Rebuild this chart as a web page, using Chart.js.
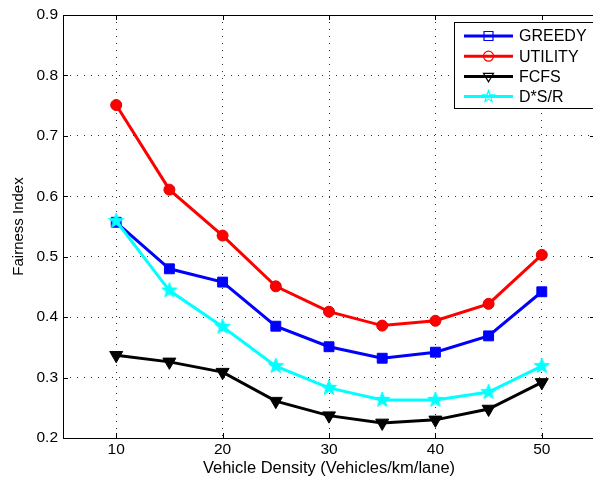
<!DOCTYPE html>
<html>
<head>
<meta charset="utf-8">
<title>Fairness Index vs Vehicle Density</title>
<script src="https://cdn.jsdelivr.net/npm/chart.js@4.4.0/dist/chart.umd.min.js"></script>
<style>
  html, body { margin: 0; padding: 0; background: #fff; overflow: hidden; }
  #wrap { width: 605px; height: 484px; }
</style>
</head>
<body>
<div id="wrap"><canvas id="chart1" width="605" height="484"></canvas></div>
<script>
// vehicle density (x) and fairness index for each scheme
const density = [10, 15, 20, 25, 30, 35, 40, 45, 50];
const greedy  = [0.557, 0.480, 0.458, 0.385, 0.351, 0.332, 0.342, 0.369, 0.442];
const utility = [0.751, 0.611, 0.535, 0.451, 0.409, 0.386, 0.394, 0.422, 0.503];
const fcfs    = [0.337, 0.326, 0.309, 0.261, 0.237, 0.225, 0.230, 0.248, 0.292];
const dsr     = [0.559, 0.444, 0.384, 0.319, 0.283, 0.263, 0.263, 0.276, 0.319];

const seriesNames = ['GREEDY', 'UTILITY', 'FCFS', 'D*S/R'];
const xTicks = [10, 20, 30, 40, 50];
const yTicks = [0.2, 0.3, 0.4, 0.5, 0.6, 0.7, 0.8, 0.9];

const FONT = '"Liberation Sans", Arial, Helvetica, sans-serif';

function starPath(ctx, cx, cy, outer, inner) {
  ctx.beginPath();
  for (let i = 0; i < 10; i++) {
    const r = i % 2 === 0 ? outer : inner;
    const a = -Math.PI / 2 + i * Math.PI / 5;
    const px = cx + r * Math.cos(a), py = cy + r * Math.sin(a);
    if (i === 0) ctx.moveTo(px, py); else ctx.lineTo(px, py);
  }
  ctx.closePath();
}

function starImage(size, color) {
  const c = document.createElement('canvas');
  c.width = size; c.height = size;
  const g = c.getContext('2d');
  starPath(g, size / 2, size / 2, size / 2 - 1, (size / 2 - 1) * 0.42);
  g.fillStyle = color;
  g.fill();
  g.lineWidth = 1;
  g.strokeStyle = color;
  g.stroke();
  return c;
}

function points(ys) {
  return density.map((x, i) => ({ x: x, y: ys[i] }));
}

// box frame with inward tick marks
const framePlugin = {
  id: 'frame',
  afterDatasetsDraw(chart) {
    const { ctx, chartArea: a, scales } = chart;
    ctx.save();
    ctx.strokeStyle = '#000';
    ctx.lineWidth = 1;
    ctx.beginPath();
    xTicks.forEach(v => {
      const px = Math.round(scales.x.getPixelForValue(v)) + 0.5;
      ctx.moveTo(px, a.bottom); ctx.lineTo(px, a.bottom - 5);
      ctx.moveTo(px, a.top); ctx.lineTo(px, a.top + 5);
    });
    yTicks.forEach(v => {
      const py = Math.round(scales.y.getPixelForValue(v)) + 0.5;
      ctx.moveTo(a.left, py); ctx.lineTo(a.left + 5, py);
      ctx.moveTo(a.right, py); ctx.lineTo(a.right - 5, py);
    });
    ctx.stroke();
    ctx.strokeRect(Math.round(a.left) + 0.5, Math.round(a.top) + 0.5,
                   Math.round(a.right - a.left), Math.round(a.bottom - a.top));
    ctx.restore();
  }
};

// boxed legend in the upper right corner
const legendBox = {
  id: 'legendBox',
  afterDraw(chart) {
    const ctx = chart.ctx;
    const left = 454, top = 22, width = 145, height = 86;
    ctx.save();
    ctx.fillStyle = '#fff';
    ctx.fillRect(left, top, width, height);
    ctx.strokeStyle = '#000';
    ctx.lineWidth = 1;
    ctx.strokeRect(left + 0.5, top + 0.5, width, height);
    ctx.font = '16px ' + FONT;
    ctx.textBaseline = 'middle';
    chart.data.datasets.forEach((ds, i) => {
      const y = top + 14 + i * 20.2;
      ctx.strokeStyle = ds.borderColor;
      ctx.lineWidth = 3;
      ctx.beginPath();
      ctx.moveTo(464, y); ctx.lineTo(513, y);
      ctx.stroke();
      ctx.lineWidth = 1.2;
      const cx = 488.5;
      ctx.beginPath();
      if (i === 0) {
        ctx.rect(cx - 4.5, y - 4.5, 9, 9);
      } else if (i === 1) {
        ctx.arc(cx, y, 5, 0, Math.PI * 2);
      } else if (i === 2) {
        ctx.moveTo(cx - 5, y - 3); ctx.lineTo(cx + 5, y - 3); ctx.lineTo(cx, y + 5.5); ctx.closePath();
      } else {
        starPath(ctx, cx, y, 6, 2.5);
      }
      ctx.stroke();
      ctx.fillStyle = '#000';
      ctx.fillText(ds.label, 519, y + 1);
    });
    ctx.restore();
  }
};

const gridStyle = {
  color: 'rgba(0,0,0,0.8)',
  lineWidth: 1,
  drawTicks: false
};

new Chart(document.getElementById('chart1'), {
  type: 'line',
  data: {
    datasets: [
      {
        label: seriesNames[0], data: points(greedy), order: 3,
        borderColor: '#0000ff', backgroundColor: '#0000ff',
        pointStyle: 'rect', pointRadius: 7, pointBorderWidth: 1
      },
      {
        label: seriesNames[1], data: points(utility), order: 2,
        borderColor: '#ff0000', backgroundColor: '#ff0000',
        pointStyle: 'circle', pointRadius: 5.5, pointBorderWidth: 1,
        pointBorderColor: '#e00000'
      },
      {
        label: seriesNames[2], data: points(fcfs), order: 1,
        borderColor: '#000000', backgroundColor: '#000000',
        pointStyle: 'triangle', pointRotation: 180, pointRadius: 7.5, pointBorderWidth: 1
      },
      {
        label: seriesNames[3], data: points(dsr), order: 0,
        borderColor: '#00ffff', backgroundColor: '#00ffff',
        pointStyle: starImage(18, '#00ffff'), pointRadius: 9
      }
    ]
  },
  options: {
    responsive: false,
    animation: false,
    layout: { padding: { left: 0, top: 15, right: 4, bottom: 0 } },
    elements: {
      line: { borderWidth: 3, tension: 0 }
    },
    plugins: {
      legend: { display: false },
      tooltip: { enabled: false }
    },
    scales: {
      x: {
        type: 'linear',
        min: 5,
        max: 55,
        afterBuildTicks: s => { s.ticks = xTicks.map(v => ({ value: v })); },
        afterFit: s => { s.height = 46; },
        border: { display: false, dash: [1, 6] },
        grid: gridStyle,
        ticks: {
          color: '#000',
          padding: 2,
          font: { family: FONT, size: 15.5 }
        },
        title: {
          display: true,
          text: 'Vehicle Density (Vehicles/km/lane)',
          color: '#000',
          font: { family: FONT, size: 16.5 },
          padding: { top: 0, bottom: 6 }
        }
      },
      y: {
        min: 0.2,
        max: 0.9,
        afterBuildTicks: s => { s.ticks = yTicks.map(v => ({ value: v })); },
        afterFit: s => { s.width = 63; },
        border: { display: false, dash: [1, 6] },
        grid: gridStyle,
        ticks: {
          color: '#000',
          padding: 5,
          font: { family: FONT, size: 15.5 },
          callback: v => v.toFixed(1)
        },
        title: {
          display: true,
          text: 'Fairness Index',
          color: '#000',
          font: { family: FONT, size: 15 },
          padding: { top: 10, bottom: 0 }
        }
      }
    }
  },
  plugins: [framePlugin, legendBox]
});
</script>
</body>
</html>
